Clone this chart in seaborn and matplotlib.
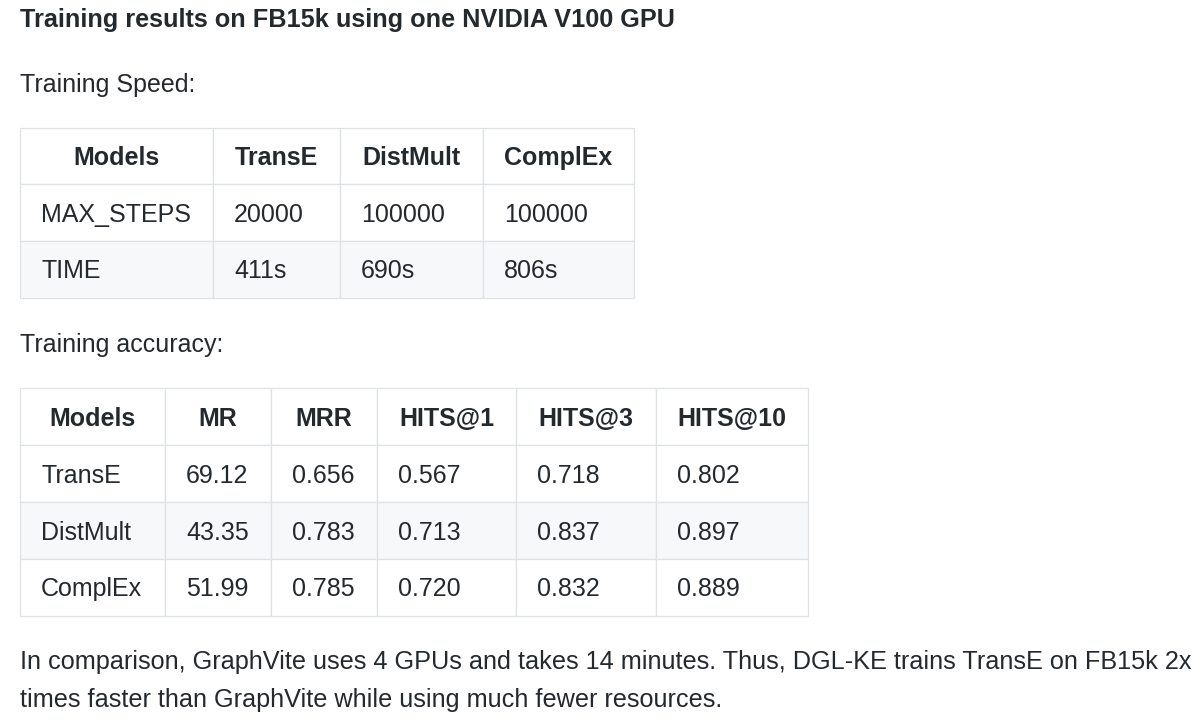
import matplotlib
matplotlib.use("Agg")
import matplotlib.pyplot as plt
import seaborn as sns
from matplotlib.patches import Rectangle

sns.set_style("white")
plt.rcParams['font.family'] = ['Liberation Sans', 'DejaVu Sans']

# ==========================================================
# DATA
# ==========================================================

title = "Training results on FB15k using one NVIDIA V100 GPU"
speed_caption = "Training Speed:"
acc_caption = "Training accuracy:"

speed_header = ["Models", "TransE", "DistMult", "ComplEx"]
speed_rows = ["MAX_STEPS", "TIME"]
max_steps = ["20000", "100000", "100000"]
train_time = ["411s", "690s", "806s"]

acc_header = ["Models", "MR", "MRR", "HITS@1", "HITS@3", "HITS@10"]
acc_models = ["TransE", "DistMult", "ComplEx"]
mr = ["69.12", "43.35", "51.99"]
mrr = ["0.656", "0.783", "0.785"]
hits1 = ["0.567", "0.713", "0.720"]
hits3 = ["0.718", "0.837", "0.832"]
hits10 = ["0.802", "0.897", "0.889"]

footer = [
    "In comparison, GraphVite uses 4 GPUs and takes 14 minutes. Thus, DGL-KE trains TransE on FB15k 2x",
    "times faster than GraphVite while using much fewer resources.",
]

# ==========================================================
# STYLE / LAYOUT
# ==========================================================

TEXT = "#24292e"
BORDER = "#dfe2e5"
STRIPE = "#f6f8fa"
FS = 18
PAD = 21

fig = plt.figure(figsize=(12, 7.24), dpi=100)
ax = fig.add_axes([0, 0, 1, 1])
ax.set_xlim(0, 1200)
ax.set_ylim(724, 0)
ax.axis("off")


def draw_table(ax, header, rows, col_edges, top, row_h):
    n_rows = len(rows) + 1
    for r in range(n_rows):
        y0 = top + r * row_h
        for c in range(len(header)):
            x0 = col_edges[c]
            w = col_edges[c + 1] - x0
            face = STRIPE if (r >= 1 and r % 2 == 0) else "white"
            ax.add_patch(Rectangle((x0, y0), w, row_h, facecolor=face,
                                   edgecolor=BORDER, linewidth=0.9))
            yb = y0 + row_h / 2 + 9
            if r == 0:
                ax.text((x0 + col_edges[c + 1]) / 2, yb, header[c],
                        ha="center", va="baseline", fontsize=FS,
                        fontweight="bold", color=TEXT)
            else:
                ax.text(x0 + PAD, yb, rows[r - 1][c], ha="left",
                        va="baseline", fontsize=FS, color=TEXT)


ax.text(20, 27.3, title, fontsize=18.2, fontweight="bold", color=TEXT,
        va="baseline", ha="left")

ax.text(20, 91.7, speed_caption, fontsize=FS, color=TEXT, va="baseline")

speed_table = [[speed_rows[0]] + max_steps, [speed_rows[1]] + train_time]
draw_table(ax, speed_header, speed_table, [20, 213, 340, 483, 634], 127.5, 56.8)

ax.text(20, 351.7, acc_caption, fontsize=FS, color=TEXT, va="baseline")

acc_table = [[acc_models[i], mr[i], mrr[i], hits1[i], hits3[i], hits10[i]]
             for i in range(len(acc_models))]
draw_table(ax, acc_header, acc_table, [20, 165, 271, 377, 516, 656, 808], 388.3, 56.9)

ax.text(20, 669.3, footer[0], fontsize=18.2, color=TEXT, va="baseline")
ax.text(20, 706.7, footer[1], fontsize=18.2, color=TEXT, va="baseline")

plt.savefig("out.png", dpi=100)
plt.close()
